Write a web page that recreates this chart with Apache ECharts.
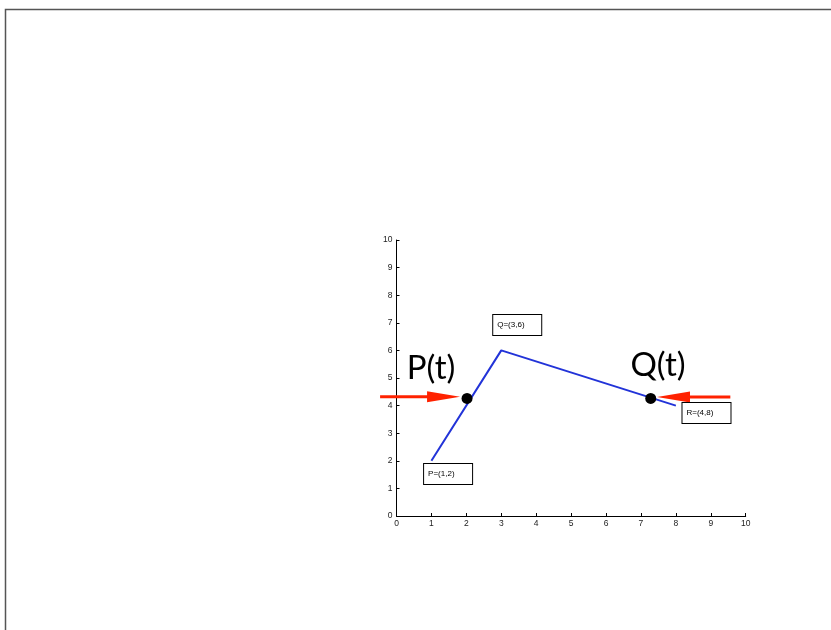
<!DOCTYPE html>
<html>
<head>
<meta charset="utf-8">
<script src="https://cdn.jsdelivr.net/npm/echarts@6/dist/echarts.min.js"></script>
<style>html,body{margin:0;padding:0;background:#fff;}#c{width:831px;height:630px;}</style>
</head>
<body>
<div id="c"></div>
<script>
// Polyline P-Q-R
const pathPoints = [[1, 2], [3, 6], [8, 4]];
// Moving points P(t) and Q(t)
const movingPoints = [[2.02, 4.26], [7.28, 4.26]];
const movingNames = ['P(t)', 'Q(t)'];
const movingLabelPos = [[0.99, 5.36], [7.49, 5.47]];
// Arrows: [xStart, xEnd, y]
const arrows = [[-0.47, 1.82, 4.32], [9.56, 7.46, 4.31]];
// Point annotation boxes: [x of left edge, y center, text]
const boxes = [[0.79, 1.52, 'P=(1,2)'], [2.77, 6.92, 'Q=(3,6)'], [8.19, 3.73, 'R=(4,8)']];
const ticks = [0, 1, 2, 3, 4, 5, 6, 7, 8, 9, 10];

const chart = echarts.init(document.getElementById('c'));
const axisCommon = {
  type: 'value', min: ticks[0], max: ticks[ticks.length - 1], interval: 1,
  axisLine: { show: true, lineStyle: { color: '#000', width: 1 } },
  axisTick: { show: true, inside: true, length: 3, lineStyle: { color: '#000' } },
  axisLabel: { fontSize: 8.5, color: '#222', fontFamily: 'Liberation Sans, Arial, sans-serif' },
  splitLine: { show: false }
};
chart.setOption({
  animation: false,
  backgroundColor: '#fff',
  graphic: [{
    type: 'rect', left: 3, top: 7, shape: { width: 900, height: 700 },
    style: { fill: 'none', stroke: '#555', lineWidth: 1.5 }, silent: true, z: 100
  }],
  grid: { left: 396.5, right: 85.3, top: 240, bottom: 114, containLabel: false },
  xAxis: Object.assign({}, axisCommon, { axisLabel: Object.assign({}, axisCommon.axisLabel, { margin: 3 }) }),
  yAxis: Object.assign({}, axisCommon, { axisLabel: Object.assign({}, axisCommon.axisLabel, { margin: 4 }) }),
  series: [
    {
      type: 'line', data: pathPoints, symbol: 'none',
      lineStyle: { color: '#2233d8', width: 2 }, z: 2
    },
    {
      type: 'custom', coordinateSystem: 'cartesian2d', data: arrows, z: 3,
      renderItem: function (params, api) {
        const p0 = api.coord([api.value(0), api.value(2)]);
        const p1 = api.coord([api.value(1), api.value(2)]);
        const dir = p1[0] > p0[0] ? 1 : -1;
        const headLen = 33, headHalf = 5.5;
        const base = p1[0] - dir * headLen;
        return {
          type: 'group', children: [
            { type: 'line', shape: { x1: p0[0], y1: p0[1], x2: base + dir * 2, y2: p1[1] },
              style: { stroke: '#ff2200', lineWidth: 3 } },
            { type: 'polygon', shape: { points: [[p1[0], p1[1]], [base, p1[1] - headHalf], [base, p1[1] + headHalf]] },
              style: { fill: '#ff2200' } }
          ]
        };
      }
    },
    {
      type: 'scatter', data: movingPoints, symbol: 'circle', symbolSize: 11,
      itemStyle: { color: '#000', opacity: 1 }, z: 4
    },
    {
      type: 'scatter', data: movingLabelPos.map((p, i) => ({ value: p, name: movingNames[i] })),
      symbolSize: 0, z: 5, itemStyle: { opacity: 1 },
      label: {
        show: true, position: 'inside', formatter: '{b}', fontSize: 33, color: '#000',
        fontFamily: 'Lato, "Open Sans", sans-serif'
      }
    },
    {
      type: 'scatter', data: boxes.map(b => ({ value: [b[0], b[1]], name: b[2] })),
      symbolSize: 0, z: 5, itemStyle: { opacity: 1 },
      label: {
        show: true, position: 'right', distance: 0, formatter: '{b}', fontSize: 8, color: '#000',
        fontFamily: 'Liberation Sans, Arial, sans-serif',
        width: 40, height: 10, lineHeight: 10, padding: [5, 4, 5, 4],
        borderColor: '#000', borderWidth: 1, backgroundColor: '#fff'
      }
    }
  ]
});
</script>
</body>
</html>
